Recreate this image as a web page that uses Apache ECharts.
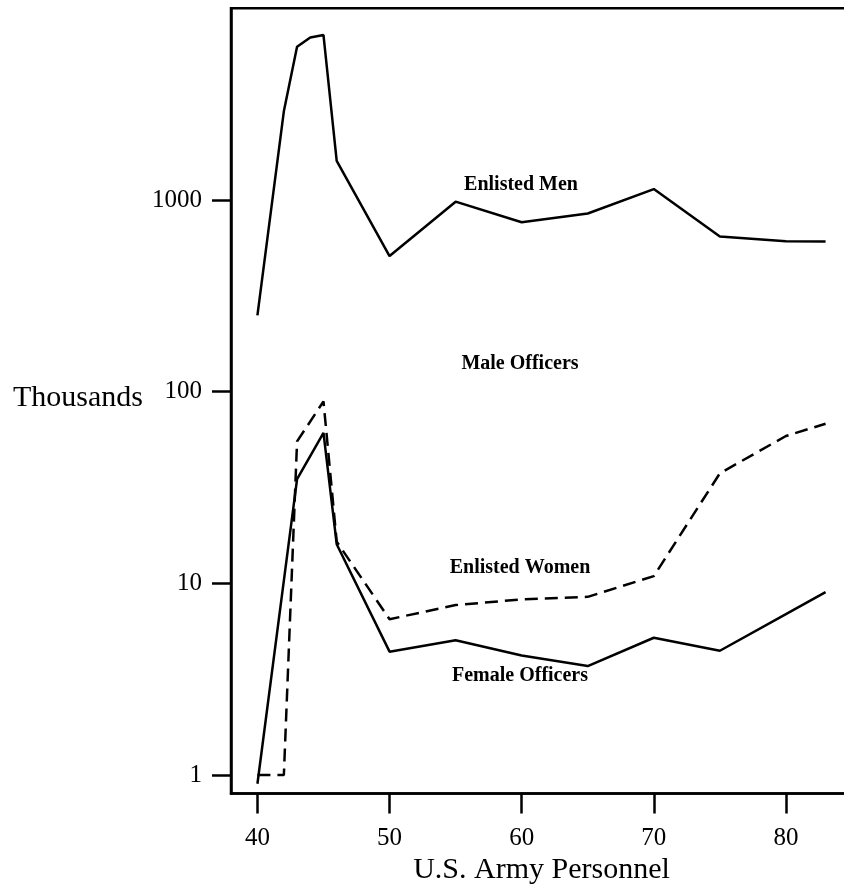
<!DOCTYPE html>
<html>
<head>
<meta charset="utf-8">
<script src="https://cdn.jsdelivr.net/npm/echarts@6/dist/echarts.min.js"></script>
<style>
html,body{margin:0;padding:0;background:#fff;}
#chart{width:844px;height:895px;}
</style>
</head>
<body>
<div id="chart"></div>
<script>
// Data (values in thousands)
const enlistedMenYears = [40, 42, 43, 44, 45, 46, 50, 55, 60, 65, 70, 75, 80, 83];
const enlistedMen      = [250, 2900, 6300, 7050, 7250, 1600, 510, 980, 765, 850, 1140, 645, 610, 608];

const enlistedWomenYears = [40, 42, 43, 45, 46, 50, 55, 60, 65, 70, 75, 80, 83];
const enlistedWomen      = [1.0, 1.0, 55, 89, 16.5, 6.5, 7.7, 8.25, 8.5, 10.9, 37.5, 58.7, 68];

const femaleOfficerYears = [40, 43, 45, 46, 50, 55, 60, 65, 70, 75, 80, 83];
const femaleOfficers     = [0.9, 35, 61, 16, 4.4, 5.05, 4.2, 3.7, 5.2, 4.45, 6.9, 9.0];

const xTicks = [40, 50, 60, 70, 80];
const yTicks = [1, 10, 100, 1000];

const seriesLabels = [
  { text: 'Enlisted Men', x: 521, y: 185 },
  { text: 'Male Officers', x: 520, y: 364 },
  { text: 'Enlisted Women', x: 520, y: 568 },
  { text: 'Female Officers', x: 520, y: 676 }
];

const pairs = (xs, ys) => xs.map((x, i) => [x, ys[i]]);
const serif = "'Liberation Serif', 'DejaVu Serif', serif";

const chart = echarts.init(document.getElementById('chart'), null, { renderer: 'canvas' });
chart.setOption({
  animation: false,
  backgroundColor: '#fff',
  grid: {
    left: 231, right: -8, top: 8.33, bottom: 101.43,
    show: true, borderColor: '#000', borderWidth: 2.5,
    containLabel: false, outerBoundsMode: 'none'
  },
  xAxis: {
    type: 'value', min: 38, max: 85,
    name: 'U.S. Army Personnel', nameLocation: 'middle', nameGap: 62,
    nameTextStyle: { fontFamily: serif, fontSize: 30, color: '#000' },
    axisLine: { show: true, lineStyle: { color: '#000', width: 2.5 } },
    axisTick: { show: true, customValues: xTicks, length: 20, lineStyle: { color: '#000', width: 2.5 } },
    axisLabel: { customValues: xTicks, fontFamily: serif, fontSize: 25, color: '#000', margin: 32 },
    splitLine: { show: false }
  },
  yAxis: {
    type: 'log', logBase: 10, min: 0.8, max: 10000,
    axisLine: { show: true, lineStyle: { color: '#000', width: 2.5 } },
    axisTick: { show: true, customValues: yTicks, length: 19, lineStyle: { color: '#000', width: 2.5 } },
    axisLabel: { customValues: yTicks, fontFamily: serif, fontSize: 25, color: '#000', margin: 29,
      formatter: v => String(v) },
    splitLine: { show: false }
  },
  graphic: [
    { type: 'text', left: 13, top: 383, style: { text: 'Thousands', font: '30px ' + serif, fill: '#000' } }
  ].concat(seriesLabels.map(l => ({
    type: 'text', x: l.x, y: l.y,
    style: { text: l.text, font: 'bold 20px ' + serif, fill: '#000', align: 'center', verticalAlign: 'middle' }
  }))),
  series: [
    { type: 'line', name: 'Enlisted Men', data: pairs(enlistedMenYears, enlistedMen), symbol: 'none',
      lineStyle: { color: '#000', width: 2.5 } },
    { type: 'line', name: 'Enlisted Women', data: pairs(enlistedWomenYears, enlistedWomen), symbol: 'none',
      lineStyle: { color: '#000', width: 2.5, type: [13, 7] } },
    { type: 'line', name: 'Female Officers', data: pairs(femaleOfficerYears, femaleOfficers), symbol: 'none',
      lineStyle: { color: '#000', width: 2.5 } }
  ]
});
</script>
</body>
</html>
